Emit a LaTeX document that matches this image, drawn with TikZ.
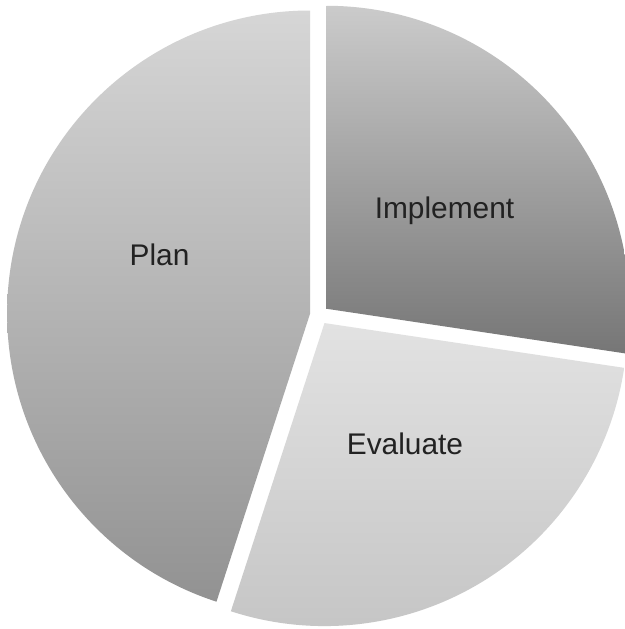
\documentclass[tikz,border=0pt]{standalone}
\usepackage{fontspec}
\setmainfont{Liberation Sans}
\usetikzlibrary{calc}
\definecolor{txt}{HTML}{222222}
\tikzset{
  slicelabel/.style={anchor=base, text=txt, font=\fontsize{17pt}{20pt}\selectfont, inner sep=0pt},
}
\begin{document}
\begin{tikzpicture}[x=0.02cm,y=0.02cm]
\useasboundingbox (0,0) rectangle (625,629);
\clip (0,0) rectangle (625,629);
\fill[white] (0,0) rectangle (625,629);
\coordinate (C) at (319.5,314);
% Plan
\shade[top color={rgb,255:red,214;green,214;blue,214}, bottom color={rgb,255:red,146;green,146;blue,146}]
  ($(C)+(171:9.5)$) -- ++(90:303) arc[start angle=90, end angle=252, radius=303] -- cycle;
% Implement
\shade[top color={rgb,255:red,203;green,203;blue,203}, bottom color={rgb,255:red,118;green,118;blue,118}]
  ($(C)+(40.75:9.5)$) -- ++(-8.5:303) arc[start angle=-8.5, end angle=90, radius=303] -- cycle;
% Evaluate
\shade[top color={rgb,255:red,226;green,226;blue,226}, bottom color={rgb,255:red,196;green,196;blue,196}]
  ($(C)+(301.75:9.5)$) -- ++(252:303) arc[start angle=252, end angle=351.5, radius=303] -- cycle;
\node[slicelabel] (plan) at (159.5,363) {Plan};
\node[slicelabel] (impl) at (444.5,410) {Implement};
\node[slicelabel] (eval) at (405,174) {Evaluate};
\end{tikzpicture}
\end{document}
